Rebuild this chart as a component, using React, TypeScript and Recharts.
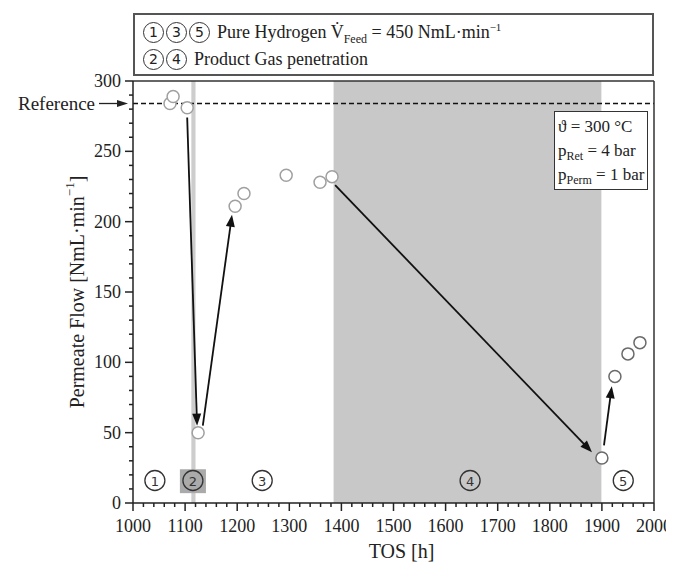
import React from 'react';
import {
  ComposedChart,
  Scatter,
  XAxis,
  YAxis,
  ReferenceArea,
  ReferenceLine,
  ReferenceDot,
  Label,
} from 'recharts';

// measured points (TOS [h] / permeate flow [NmL/min])
const tosEarly = [1071, 1077, 1104, 1125, 1196, 1213, 1294, 1359, 1382];
const flowEarly = [284, 289, 281, 50, 211, 220, 233, 228, 232];
const tosLate = [1900, 1925, 1950, 1973];
const flowLate = [32, 90, 106, 114];

const referenceFlow = 284;

// arrows between phases
const arrowStartTos = [1104, 1134, 1388, 1904];
const arrowStartFlow = [274, 55, 226, 41];
const arrowEndTos = [1123, 1190, 1881, 1919];
const arrowEndFlow = [55, 205, 36, 83];

// shaded phases
const phase2Band = [1112, 1120];
const phase4Band = [1385, 1899];
const phaseNames = ['1', '2', '3', '4', '5'];
const phaseLabelTos = [1042, 1115, 1248, 1647, 1941];
const phaseLabelFlow = 16;

const xMajorTicks = [1000, 1100, 1200, 1300, 1400, 1500, 1600, 1700, 1800, 1900, 2000];
const yMajorTicks = [0, 50, 100, 150, 200, 250, 300];

const xTicks: number[] = [];
for (let v = 1000; v <= 2000; v += 20) xTicks.push(v);
const yTicks: number[] = [];
for (let v = 0; v <= 300; v += 10) yTicks.push(v);

const earlyData = tosEarly.map((t, i) => ({ tos: t, flow: flowEarly[i] }));
const lateData = tosLate.map((t, i) => ({ tos: t, flow: flowLate[i] }));

const FONT = '"Liberation Serif", "Times New Roman", serif';
const INK = '#222';
const serif = { fontFamily: FONT };

const XTick = (props: any) => {
  const { x, y, payload } = props;
  const major = xMajorTicks.includes(payload.value);
  return (
    <g>
      <line x1={x} y1={y} x2={x} y2={y + (major ? 8 : 4)} stroke={INK} strokeWidth={1.5} />
      {major && (
        <text x={x} y={y + 23} textAnchor="middle" dominantBaseline="central" style={serif} fontSize={18} fill={INK}>
          {payload.value}
        </text>
      )}
    </g>
  );
};

const YTick = (props: any) => {
  const { x, y, payload } = props;
  const major = yMajorTicks.includes(payload.value);
  return (
    <g>
      <line x1={x - (major ? 8 : 4)} y1={y} x2={x} y2={y} stroke={INK} strokeWidth={1.5} />
      {major && (
        <text x={x - 12} y={y} textAnchor="end" dominantBaseline="central" style={serif} fontSize={18} fill={INK}>
          {payload.value}
        </text>
      )}
    </g>
  );
};

const Arrow = (p: any) => {
  const { x1, y1, x2, y2 } = p;
  const dx = x2 - x1;
  const dy = y2 - y1;
  const len = Math.hypot(dx, dy) || 1;
  const ux = dx / len;
  const uy = dy / len;
  const hl = 12;
  const hw = 4.5;
  const bx = x2 - ux * hl;
  const by = y2 - uy * hl;
  return (
    <g>
      <line x1={x1} y1={y1} x2={bx + ux * 2} y2={by + uy * 2} stroke="#111" strokeWidth={1.8} />
      <polygon
        points={`${x2},${y2} ${bx - uy * hw},${by + ux * hw} ${bx + uy * hw},${by - ux * hw}`}
        fill="#111"
      />
    </g>
  );
};

const RefLabel = (p: any) => {
  const { viewBox } = p;
  const x = viewBox.x;
  const y = viewBox.y;
  return (
    <g>
      <text x={x - 38} y={y} textAnchor="end" dominantBaseline="central" style={serif} fontSize={19} fill={INK}>
        Reference
      </text>
      <line x1={x - 34} y1={y} x2={x - 14} y2={y} stroke={INK} strokeWidth={1.3} />
      <polygon points={`${x - 5},${y} ${x - 16},${y - 3.5} ${x - 16},${y + 3.5}`} fill={INK} />
    </g>
  );
};

const YTitle = (p: any) => {
  const { viewBox } = p;
  const cx = viewBox.x + 4;
  const cy = viewBox.y + viewBox.height / 2;
  return (
    <text
      x={cx}
      y={cy}
      transform={`rotate(-90, ${cx}, ${cy})`}
      textAnchor="middle"
      dominantBaseline="central"
      style={serif}
      fontSize={20}
      fill={INK}
    >
      Permeate Flow [NmL·min
      <tspan dy={-8} fontSize={13}>−1</tspan>
      <tspan dy={8}>]</tspan>
    </text>
  );
};

const XTitle = (p: any) => {
  const { viewBox } = p;
  return (
    <text
      x={viewBox.x + viewBox.width / 2 + 8}
      y={viewBox.y + 48}
      textAnchor="middle"
      dominantBaseline="central"
      style={serif}
      fontSize={20}
      fill={INK}
    >
      TOS [h]
    </text>
  );
};

const phaseMark = (name: string) => (p: any) => (
  <g>
    <circle cx={p.cx} cy={p.cy} r={10} fill="none" stroke="#333" strokeWidth={1.3} />
    <text x={p.cx} y={p.cy + 1} textAnchor="middle" dominantBaseline="central" style={{ fontFamily: 'DejaVu Sans, sans-serif' }} fontSize={13} fill="#333">
      {name}
    </text>
  </g>
);

const dotEarly = (p: any) => (
  <circle cx={p.cx} cy={p.cy} r={6} fill="#fff" stroke="#a0a0a0" strokeWidth={1.5} />
);
const dotLate = (p: any) => (
  <circle cx={p.cx} cy={p.cy} r={6} fill="#fff" stroke="#6a6a6a" strokeWidth={1.5} />
);

const Circ = ({ n }: { n: string }) => (
  <span
    style={{
      display: 'inline-flex',
      alignItems: 'center',
      justifyContent: 'center',
      width: 21,
      height: 21,
      border: '1.3px solid #333',
      borderRadius: '50%',
      fontFamily: 'DejaVu Sans, sans-serif',
      fontSize: 14,
      lineHeight: 1,
      marginRight: 2,
      boxSizing: 'border-box',
    }}
  >
    {n}
  </span>
);

const legendLine: React.CSSProperties = {
  position: 'absolute',
  left: 8,
  height: 26,
  display: 'flex',
  alignItems: 'center',
  whiteSpace: 'nowrap',
};

export default function App() {
  return (
    <div style={{ position: 'relative', width: 666, height: 556, fontFamily: FONT, color: INK }}>
      <ComposedChart
        width={666}
        height={556}
        margin={{ top: 73, right: 20, bottom: 31, left: 65 }}
        style={{ background: '#fff' }}
      >
        <XAxis
          type="number"
          dataKey="tos"
          domain={[1000, 2000]}
          ticks={xTicks}
          interval={0}
          tickSize={0}
          tickMargin={0}
          tick={<XTick />}
          tickLine={false}
          axisLine={{ stroke: INK, strokeWidth: 1.5 }}
          height={30}
          allowDataOverflow
        >
          <Label content={<XTitle />} />
        </XAxis>
        <YAxis
          type="number"
          dataKey="flow"
          domain={[0, 300]}
          ticks={yTicks}
          interval={0}
          tickSize={0}
          tickMargin={0}
          tick={<YTick />}
          tickLine={false}
          axisLine={{ stroke: INK, strokeWidth: 1.5 }}
          width={60}
          allowDataOverflow
        >
          <Label content={<YTitle />} />
        </YAxis>

        <ReferenceArea x1={phase4Band[0]} x2={phase4Band[1]} y1={0} y2={300} fill="#c8c8c8" fillOpacity={1} stroke="none" />
        <ReferenceArea x1={phase2Band[0]} x2={phase2Band[1]} y1={0} y2={300} fill="#cdcdcd" fillOpacity={1} stroke="none" />
        <ReferenceArea x1={1090} x2={1140} y1={7} y2={24} fill="#aaaaaa" fillOpacity={1} stroke="none" />

        <ReferenceLine
          y={referenceFlow}
          stroke="#111"
          strokeWidth={1.5}
          strokeDasharray="5 3"
          label={<RefLabel />}
        />
        <ReferenceLine y={300} stroke="#333" strokeWidth={1.5} />
        <ReferenceLine x={2000} stroke="#333" strokeWidth={1.5} />

        {arrowStartTos.map((t, i) => (
          <ReferenceLine
            key={`arrow-${i}`}
            segment={[
              { x: t, y: arrowStartFlow[i] },
              { x: arrowEndTos[i], y: arrowEndFlow[i] },
            ]}
            shape={(p: any) => <Arrow {...p} />}
          />
        ))}

        {phaseNames.map((n, i) => (
          <ReferenceDot key={`ph-${n}`} x={phaseLabelTos[i]} y={phaseLabelFlow} r={10} shape={phaseMark(n)} />
        ))}

        <Scatter data={earlyData} dataKey="flow" shape={dotEarly} isAnimationActive={false} />
        <Scatter data={lateData} dataKey="flow" shape={dotLate} isAnimationActive={false} />
      </ComposedChart>

      <div
        style={{
          position: 'absolute',
          left: 125,
          top: 5,
          width: 521,
          height: 63,
          border: '2px solid #555',
          boxSizing: 'border-box',
          background: '#fff',
          fontSize: 18,
        }}
      >
        <div style={{ ...legendLine, top: 4 }}>
          <Circ n="1" />
          <Circ n="3" />
          <Circ n="5" />
          <span style={{ marginLeft: 5 }}>
            Pure Hydrogen V̇<sub style={{ fontSize: 12, lineHeight: 0 }}>Feed</sub> = 450 NmL·min
            <sup style={{ fontSize: 11, lineHeight: 0 }}>−1</sup>
          </span>
        </div>
        <div style={{ ...legendLine, top: 31 }}>
          <Circ n="2" />
          <Circ n="4" />
          <span style={{ marginLeft: 5 }}>Product Gas penetration</span>
        </div>
      </div>

      <div
        style={{
          position: 'absolute',
          left: 546,
          top: 103,
          width: 94,
          height: 79,
          border: '1.5px solid #333',
          boxSizing: 'border-box',
          background: '#fff',
          fontSize: 17,
          paddingLeft: 3,
          paddingTop: 3,
          lineHeight: '24px',
          whiteSpace: 'nowrap',
        }}
      >
        <div>ϑ = 300 °C</div>
        <div>
          p<sub style={{ fontSize: 12, lineHeight: 0 }}>Ret</sub> = 4 bar
        </div>
        <div>
          p<sub style={{ fontSize: 12, lineHeight: 0 }}>Perm</sub> = 1 bar
        </div>
      </div>
    </div>
  );
}
